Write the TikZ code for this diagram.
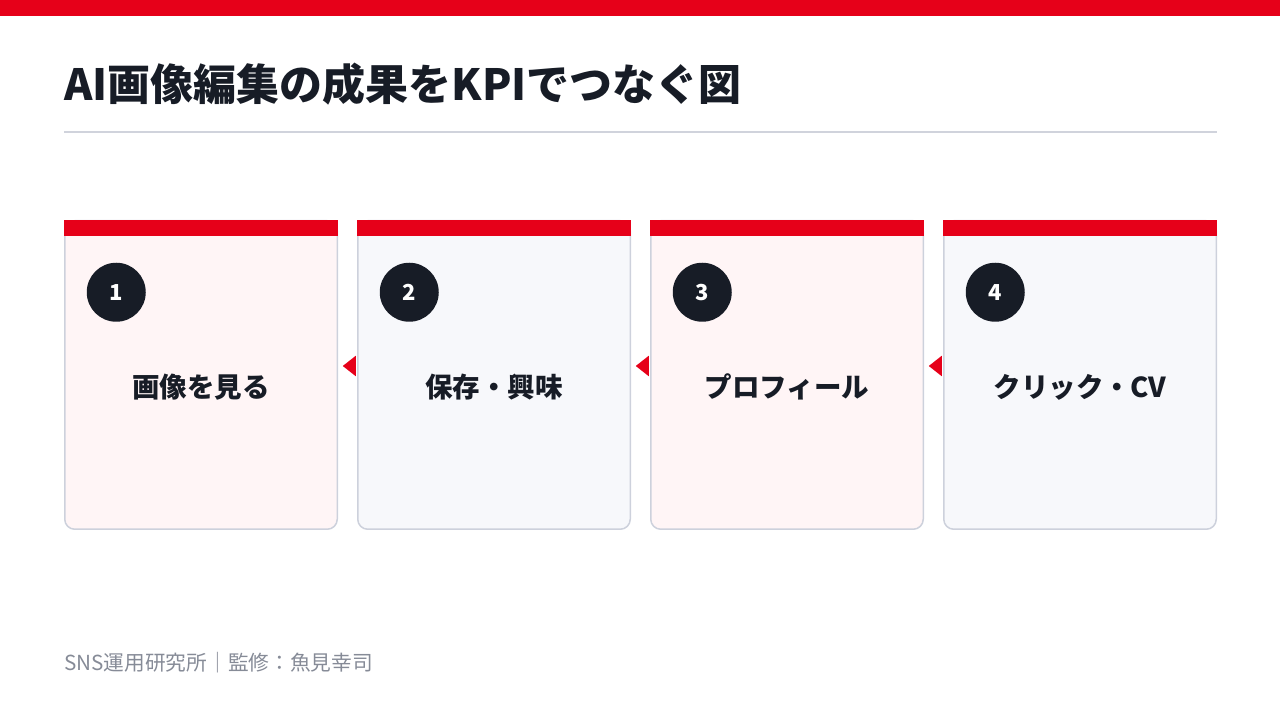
\documentclass[tikz,border=0pt]{standalone}
\usepackage{fontspec}
\setmainfont{Noto Sans CJK JP}
\usepackage{tikz}
\usetikzlibrary{arrows.meta,positioning,calc}

\definecolor{kpired}{HTML}{E60019}
\definecolor{inkdark}{HTML}{171C26}
\definecolor{rulegray}{HTML}{D0D3DC}
\definecolor{edgegray}{HTML}{CDD1DC}
\definecolor{pinkfill}{HTML}{FFF5F6}
\definecolor{bluefill}{HTML}{F7F8FB}
\definecolor{footgray}{HTML}{868B97}

\tikzset{
  card/.style={rectangle,rounded corners=10pt,draw=edgegray,line width=1.5pt,
    minimum width=272.5pt,minimum height=308.5pt,inner sep=0pt},
  numdot/.style={circle,fill=inkdark,minimum size=59pt,inner sep=0pt,
    text=white,font=\bfseries\fontsize{22}{24}\selectfont},
  cardlabel/.style={font=\bfseries\fontsize{27.5}{30}\selectfont,text=inkdark},
  flowarrow/.style={draw=kpired,line width=2pt,
    -{Triangle[length=13pt,width=20pt]},kpired}
}

\begin{document}
\begin{tikzpicture}[x=1pt,y=1pt]

\useasboundingbox (0,0) rectangle (1280,720);
\fill[kpired] (0,704) rectangle (1280,720);

% title
\node[anchor=west,inner sep=0pt,text=inkdark,font=\bfseries\fontsize{43}{47}\selectfont] (title) at (64,636) {AI画像編集の成果をKPIでつなぐ図};
\draw[rulegray,line width=2pt] (64,588) -- (1217,588);

% cards
\foreach \i/\cx/\col/\txt in {1/201/pinkfill/画像を見る,2/494/bluefill/保存・興味,3/787/pinkfill/プロフィール,4/1080/bluefill/クリック・CV}{
  \node[card,fill=\col] (card\i) at (\cx,345) {};
  \fill[kpired] ($(card\i.north west)+(-0.25,0.25)$) rectangle ($(card\i.north east)+(0.25,-16.5)$);
  \node[numdot] (num\i) at ($(card\i.north west)+(52.25,-72.25)$) {\i};
  \node[cardlabel] (lab\i) at ($(card\i.center)+(0,-12)$) {\txt};
}

% arrows
\foreach \i/\j in {2/1,3/2,4/3}{
  \coordinate (tip\i) at ($(card\j.east)+(4.75,9)$);
  \draw[flowarrow] ($(card\i.west)+(-2.75,9)$) -- (tip\i);
}

% footer
\node[anchor=west,inner sep=0pt,text=footgray,font=\fontsize{20.7}{23}\selectfont] (foot) at (64,57) {SNS運用研究所｜監修：魚見幸司};

\end{tikzpicture}
\end{document}
